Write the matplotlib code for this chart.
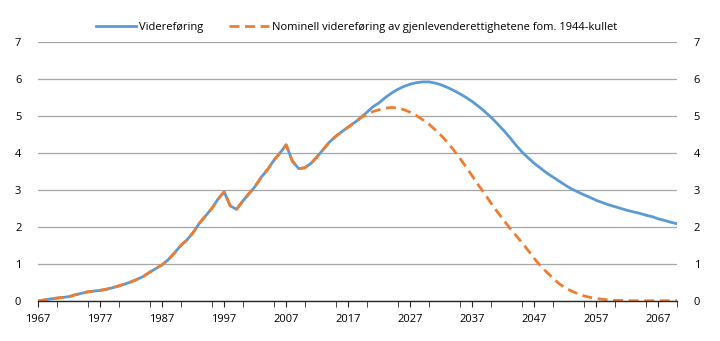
import matplotlib.pyplot as plt
from matplotlib.ticker import MultipleLocator

plt.rcParams['font.family'] = ['Open Sans', 'DejaVu Sans']

years = list(range(1967, 2071))

# felles historikk 1967-2018
historic = [0.0, 0.03, 0.06, 0.08, 0.1, 0.12, 0.17, 0.21, 0.25, 0.27,
            0.29, 0.32, 0.36, 0.41, 0.46, 0.52, 0.59, 0.67, 0.78, 0.88,
            0.98, 1.12, 1.3, 1.5, 1.65, 1.85, 2.1, 2.3, 2.5, 2.75,
            2.95, 2.57, 2.48, 2.7, 2.9, 3.1, 3.35, 3.55, 3.8, 4.0,
            4.22, 3.78, 3.58, 3.6, 3.72, 3.9, 4.1, 4.3, 4.45, 4.58,
            4.7, 4.82]

# Videreføring 2019-2070
blue_tail = [4.95, 5.1, 5.25, 5.36, 5.5, 5.62, 5.72, 5.8, 5.86, 5.9,
             5.92, 5.92, 5.89, 5.84, 5.77, 5.69, 5.6, 5.5, 5.39, 5.26,
             5.12, 4.97, 4.8, 4.62, 4.43, 4.22, 4.03, 3.87, 3.72, 3.59,
             3.46, 3.35, 3.24, 3.13, 3.03, 2.95, 2.87, 2.8, 2.72, 2.66,
             2.6, 2.55, 2.5, 2.45, 2.41, 2.37, 2.32, 2.28, 2.22, 2.18,
             2.13, 2.09]

# Nominell videreføring 2019-2070
orange_tail = [4.95, 5.05, 5.12, 5.17, 5.21, 5.23, 5.21, 5.17, 5.1, 5.01,
               4.9, 4.78, 4.63, 4.47, 4.29, 4.08, 3.86, 3.62, 3.38, 3.13,
               2.9, 2.65, 2.42, 2.2, 1.98, 1.78, 1.58, 1.37, 1.15, 0.95,
               0.78, 0.62, 0.47, 0.36, 0.27, 0.2, 0.14, 0.1, 0.07, 0.05,
               0.03, 0.02, 0.02, 0.01, 0.01, 0.01, 0.01, 0.01, 0.01, 0.01,
               0.01, 0.01]

blue = historic + blue_tail
orange = historic + orange_tail

fig = plt.figure(figsize=(7.2, 3.41), dpi=100)
ax = fig.add_axes([0.0528, 0.117, 0.8875, 0.76])

ax.plot(years, blue, color='#5B9BD5', lw=2.0, label='Videreføring')
ax.plot(years, orange, color='#ED7D31', lw=2.0, ls=(0, (3.6, 2.0)),
        label='Nominell videreføring av gjenlevenderettighetene fom. 1944-kullet')

ax.set_xlim(1967, 2070)
ax.set_ylim(0, 7)
ax.set_xticks(range(1967, 2070, 10))
ax.xaxis.set_minor_locator(MultipleLocator(5))
ax.set_yticks(range(0, 8))
ax.grid(axis='y', color='#A6A6A6', lw=0.9)
ax.set_axisbelow(True)
for s in ['top', 'left', 'right']:
    ax.spines[s].set_visible(False)
ax.spines['bottom'].set_color('#262626')
ax.spines['bottom'].set_linewidth(1.0)
ax.spines['bottom'].set_zorder(3)
ax.tick_params(axis='x', which='both', direction='out', length=4, color='#262626', labelsize=8, pad=5)
ax.tick_params(axis='y', length=0, labelsize=8, pad=12)

ax2 = ax.twinx()
ax2.set_ylim(0, 7)
ax2.set_yticks(range(0, 8))
for s in ['top', 'left', 'right', 'bottom']:
    ax2.spines[s].set_visible(False)
ax2.tick_params(axis='y', length=0, labelsize=8, pad=12)

fig.legend(loc='upper center', bbox_to_anchor=(0.495, 0.965), ncol=2, frameon=False,
           fontsize=8, handlelength=3.6, columnspacing=2.3, handletextpad=0.3)

plt.savefig('out.png', dpi=100)
